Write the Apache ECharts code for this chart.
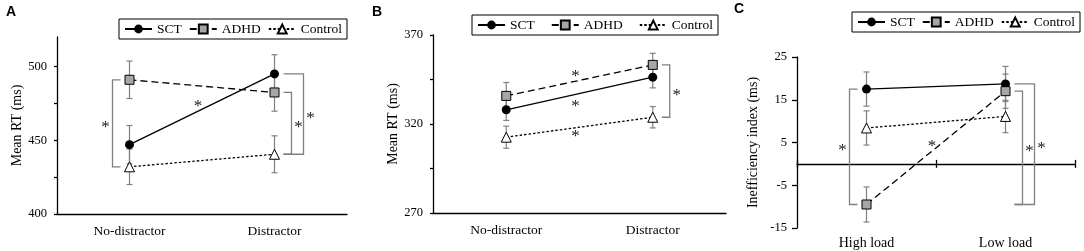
<!DOCTYPE html>
<html>
<head>
<meta charset="utf-8">
<script src="https://cdn.jsdelivr.net/npm/echarts@6/dist/echarts.min.js"></script>
<style>
  html, body { margin: 0; padding: 0; background: #fff; }
  #chart { width: 1084px; height: 251px; }
</style>
</head>
<body>
<div id="chart"></div>
<script>
// categories
const distractorCats = ['No-distractor', 'Distractor'];
const loadCats = ['High load', 'Low load'];
const groupNames = ['SCT', 'ADHD', 'Control'];

// A: mean RT, distractor condition
const sctA = [447, 495];
const adhdA = [491, 482.4];
const controlA = [432, 440.5];
const sctErrA = [13, 13];
const adhdErrA = [12.7, 12.7];
const controlErrA = [12, 12.5];

// B: mean RT, distractor condition
const sctB = [328, 346.3];
const adhdB = [335.8, 353.2];
const controlB = [312.6, 323.8];
const sctErrB = [6, 6];
const adhdErrB = [7.5, 6.5];
const controlErrB = [6.2, 6];

// C: inefficiency index, load condition
const sctC = [17.5, 18.7];
const adhdC = [-9.5, 17];
const controlC = [8.4, 11.1];
const sctErrC = [4, 4.1];
const adhdErrC = [4.1, 4];
const controlErrC = [4, 3.8];

// y axis tick labels / tick marks
const yLabelsA = [400, 450, 500];
const yTicksA = [400, 425, 450, 475, 500];
const yLabelsB = [270, 320, 370];
const yTicksB = [270, 295, 320, 345, 370];
const yTicksC = [-15, -5, 5, 15, 25];

// significance brackets: [category, from, to]
const bracketsA = [[0, 491, 432], [1, 482.4, 440.5], [1, 495, 440.5]];
const bracketsB = [[1, 353.2, 323.8]];
const bracketsC = [[0, 17.5, -9.5], [1, 17, -9.5], [1, 18.7, -9.5]];
// asterisks between the two conditions
const midStarsA = [475.6];
const midStarsB = [349, 332, 315];
const midStarsC = [5];

const serif = '"Liberation Serif", "Times New Roman", serif';
const grey = '#808080';
const starFont = '17px "Liberation Serif", serif';

const groupStyle = {
    SCT: {
        symbol: 'circle', symbolSize: 9,
        itemStyle: { color: '#000' },
        lineStyle: { color: '#000', width: 1.3, type: 'solid' }
    },
    ADHD: {
        symbol: 'rect', symbolSize: 9,
        itemStyle: { color: '#a6a6a6', borderColor: '#000', borderWidth: 1 },
        lineStyle: { color: '#000', width: 1.3, type: [7, 4] }
    },
    Control: {
        symbol: 'triangle', symbolSize: 10,
        itemStyle: { color: '#fff', borderColor: '#000', borderWidth: 1 },
        lineStyle: { color: '#000', width: 1.3, type: [2.5, 2] }
    }
}

function renderError(params, api) {
    const x = api.value(0)
    const v = api.value(1)
    const e = api.value(2)
    const hi = api.coord([x, v + e])
    const lo = api.coord([x, v - e])
    const st = { stroke: grey, lineWidth: 1.2 }
    return {
        type: 'group',
        children: [
            { type: 'line', shape: { x1: hi[0], y1: hi[1], x2: lo[0], y2: lo[1] }, style: st },
            { type: 'line', shape: { x1: hi[0] - 3, y1: hi[1], x2: hi[0] + 3, y2: hi[1] }, style: st },
            { type: 'line', shape: { x1: lo[0] - 3, y1: lo[1], x2: lo[0] + 3, y2: lo[1] }, style: st }
        ]
    }
}

function renderBracket(params, api) {
    const cat = api.value(0)
    const level = api.value(3)
    const a = api.coord([cat, api.value(1)])
    const b = api.coord([cat, api.value(2)])
    const side = cat === 0 ? -1 : 1
    const xs = a[0] + side * 9
    const xv = a[0] + side * (17 + 12 * level)
    return {
        type: 'group',
        children: [
            {
                type: 'polyline',
                shape: { points: [[xs, a[1]], [xv, a[1]], [xv, b[1]], [xs, b[1]]] },
                style: { stroke: grey, lineWidth: 1.3, fill: null }
            },
            {
                type: 'text', x: xv + side * 7, y: (a[1] + b[1]) / 2 + 4,
                style: { text: '*', font: starFont, fill: '#222', align: 'center', verticalAlign: 'middle' }
            }
        ]
    }
}

function renderMidStar(params, api) {
    const y = api.value(1)
    const p0 = api.coord([0, y])
    const p1 = api.coord([1, y])
    return {
        type: 'text', x: (p0[0] + p1[0]) / 2 - 4, y: p0[1] + 4,
        style: { text: '*', font: starFont, fill: '#222', align: 'center', verticalAlign: 'middle' }
    }
}

function panelSeries(gi, groups, errs, brackets, midStars) {
    const out = []
    groupNames.forEach((name, i) => {
        out.push({
            type: 'custom', xAxisIndex: gi, yAxisIndex: gi, z: 1,
            renderItem: renderError, encode: { x: 0, y: 1 },
            data: groups[i].map((v, k) => [k, v, errs[i][k]])
        })
    })
    groupNames.forEach((name, i) => {
        out.push(Object.assign({
            type: 'line', name, xAxisIndex: gi, yAxisIndex: gi, z: 3,
            data: groups[i]
        }, groupStyle[name]))
    })
    out.push({
        type: 'custom', xAxisIndex: gi, yAxisIndex: gi, z: 1,
        renderItem: renderBracket, encode: { x: 0, y: 1 },
        data: brackets.map((b, i) => [b[0], b[1], b[2], brackets.slice(0, i).filter(o => o[0] === b[0]).length])
    })
    out.push({
        type: 'custom', xAxisIndex: gi, yAxisIndex: gi, z: 1,
        renderItem: renderMidStar, encode: { x: 0, y: 1 },
        data: midStars.map(v => [0, v])
    })
    return out
}

function valueAxis(gi, min, max, labels, ticks, name, nameGap, tickLen) {
    return {
        type: 'value', gridIndex: gi, min, max,
        name, nameLocation: 'middle', nameGap,
        nameTextStyle: { fontFamily: serif, fontSize: 14, color: '#000' },
        axisLine: { show: true, lineStyle: { color: '#000', width: 1.3 } },
        axisTick: { show: true, length: tickLen, customValues: ticks, lineStyle: { color: '#000', width: 1.3 } },
        axisLabel: { customValues: labels, fontFamily: serif, fontSize: 12.5, color: '#000', margin: 10 },
        splitLine: { show: false }
    }
}

function catAxis(gi, cats) {
    return {
        type: 'category', gridIndex: gi, data: cats, boundaryGap: true,
        axisLine: { show: true, lineStyle: { color: '#000', width: 1.3 } },
        axisTick: { show: false },
        axisLabel: { fontFamily: serif, fontSize: 13.5, color: '#000', margin: 10 },
        splitLine: { show: false }
    }
}

function legend(left, top, gap) {
    return {
        data: groupNames, left, top, orient: 'horizontal', width: 300,
        itemWidth: 27, itemHeight: 11, itemGap: gap,
        padding: [3, 5, 3, 5],
        borderColor: '#000', borderWidth: 1, backgroundColor: '#fff',
        textStyle: { fontFamily: serif, fontSize: 13.5, color: '#000' },
        selectedMode: false
    }
}

const myChart = echarts.init(document.getElementById('chart'))
myChart.setOption({
    animation: false,
    backgroundColor: '#fff',
    grid: [
        { left: 57, top: 37, width: 290, height: 177, containLabel: false, outerBoundsMode: 'none' },
        { left: 433, top: 35, width: 293, height: 178, containLabel: false, outerBoundsMode: 'none' },
        { left: 797, top: 57, width: 278, height: 171, containLabel: false, outerBoundsMode: 'none' },
        { left: 797, top: 57, width: 278, height: 171, containLabel: false, outerBoundsMode: 'none' }
    ],
    xAxis: [
        catAxis(0, distractorCats),
        catAxis(1, distractorCats),
        {
            type: 'category', gridIndex: 2, data: loadCats, boundaryGap: true,
            axisLine: { show: true, onZero: true, lineStyle: { color: '#000', width: 1.3 } },
            axisTick: { show: true, inside: false, length: 4, lineStyle: { color: '#000', width: 1.3 } },
            axisLabel: { show: false }
        },
        {
            type: 'category', gridIndex: 3, data: loadCats, boundaryGap: true, position: 'bottom',
            axisLine: { show: false, onZero: true },
            axisTick: { show: true, inside: true, length: 4, lineStyle: { color: '#000', width: 1.3 } },
            axisLabel: { show: false }
        },
        {
            type: 'category', gridIndex: 3, data: loadCats, boundaryGap: true, position: 'bottom',
            axisLine: { show: false, onZero: false },
            axisTick: { show: false },
            axisLabel: { fontFamily: serif, fontSize: 14, color: '#000', margin: 8 }
        }
    ],
    yAxis: [
        valueAxis(0, 400, 520, yLabelsA, yTicksA, 'Mean RT (ms)', 31, 3),
        valueAxis(1, 270, 370, yLabelsB, yTicksB, 'Mean RT (ms)', 27, 3),
        valueAxis(2, -15, 25, yTicksC, yTicksC, 'Inefficiency index (ms)', 37, 5),
        { type: 'value', gridIndex: 3, min: -15, max: 25, show: false }
    ],
    legend: [legend(119, 19, 7), legend(472, 15, 16), legend(852, 12, 7)],
    graphic: [
        { type: 'text', left: 6, top: 5, style: { text: 'A', font: 'bold 14px "Liberation Sans", Arial, sans-serif', fill: '#000' } },
        { type: 'text', left: 372, top: 5, style: { text: 'B', font: 'bold 14px "Liberation Sans", Arial, sans-serif', fill: '#000' } },
        { type: 'text', left: 734, top: 2, style: { text: 'C', font: 'bold 14px "Liberation Sans", Arial, sans-serif', fill: '#000' } }
    ],
    series: [].concat(
        panelSeries(0, [sctA, adhdA, controlA], [sctErrA, adhdErrA, controlErrA], bracketsA, midStarsA),
        panelSeries(1, [sctB, adhdB, controlB], [sctErrB, adhdErrB, controlErrB], bracketsB, midStarsB),
        panelSeries(2, [sctC, adhdC, controlC], [sctErrC, adhdErrC, controlErrC], bracketsC, midStarsC)
    )
})
</script>
</body>
</html>
